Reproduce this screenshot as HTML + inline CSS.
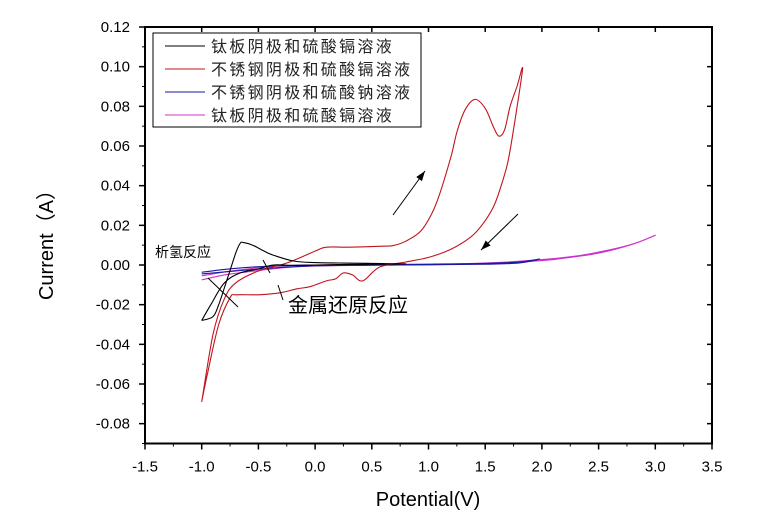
<!DOCTYPE html>
<html><head><meta charset="utf-8"><style>
html,body{margin:0;padding:0;background:#fff;}
svg{display:block;font-family:"Liberation Sans","Noto Sans CJK SC",sans-serif;}
</style></head><body>
<svg id="chart" width="770" height="527" viewBox="0 0 770 527">
<g id="plot"></g>
</svg>
<script>
const xTicks=[-1.5,-1.0,-0.5,0.0,0.5,1.0,1.5,2.0,2.5,3.0,3.5];
const xTickLabels=["-1.5","-1.0","-0.5","0.0","0.5","1.0","1.5","2.0","2.5","3.0","3.5"];
const yTicks=[0.12,0.10,0.08,0.06,0.04,0.02,0.00,-0.02,-0.04,-0.06,-0.08];
const yTickLabels=["0.12","0.10","0.08","0.06","0.04","0.02","0.00","-0.02","-0.04","-0.06","-0.08"];
const seriesNames=["钛板阴极和硫酸镉溶液","不锈钢阴极和硫酸镉溶液","不锈钢阴极和硫酸钠溶液","钛板阴极和硫酸镉溶液"];
// red: stainless + CdSO4
const redX=[-1.0,-0.9,-0.8,-0.7,-0.5,-0.25,0.0,0.1,0.3,0.6,0.69,0.8,0.93,1.03,1.1,1.2,1.25,1.32,1.41,1.5,1.57,1.62,1.67,1.72,1.78,1.83,1.76,1.7,1.63,1.57,1.47,1.37,1.2,1.01,0.8,0.57,0.42,0.33,0.25,0.18,0.1,-0.05,-0.16,-0.31,-0.5,-0.7,-0.75,-0.85,-0.95,-1.0];
const redY=[-0.069,-0.035,-0.017,-0.009,-0.003,0.001,0.007,0.009,0.009,0.0095,0.0098,0.012,0.017,0.026,0.036,0.055,0.067,0.078,0.0835,0.079,0.07,0.065,0.068,0.08,0.09,0.099,0.072,0.052,0.038,0.029,0.02,0.014,0.008,0.004,0.0015,-0.001,-0.008,-0.005,-0.004,-0.007,-0.008,-0.011,-0.012,-0.014,-0.015,-0.015,-0.0165,-0.03,-0.055,-0.069];
// black: titanium + CdSO4 (loop 1)
const blackX=[-1.0,-0.9,-0.85,-0.78,-0.7,-0.66,-0.63,-0.55,-0.45,-0.37,-0.19,0.0,0.22,0.5,0.8,0.5,0.2,0.0,-0.2,-0.37,-0.5,-0.66,-0.8,-0.92,-1.0];
const blackY=[-0.028,-0.026,-0.02,-0.008,0.006,0.011,0.0113,0.010,0.007,0.005,0.002,0.0012,0.001,0.0008,0.0006,0.0004,0.0002,0.0,-0.0002,0.0,-0.002,-0.004,-0.009,-0.02,-0.028];
// blue: stainless + Na2SO4
const blueX=[-1.0,-0.8,-0.6,-0.4,-0.2,0.0,0.5,1.0,1.5,1.8,1.98,1.8,1.5,1.0,0.5,0.0,-0.3,-0.6,-0.8,-1.0];
const blueY=[-0.0037,-0.0022,-0.0012,-0.0006,-0.0002,0.0,0.0001,0.0003,0.0008,0.0015,0.003,0.001,0.0004,0.0001,-0.0001,-0.0004,-0.0012,-0.0025,-0.0035,-0.0045];
// magenta: titanium + CdSO4 (second)
const magX=[-1.0,-0.8,-0.6,-0.4,-0.2,0.0,0.5,1.0,1.5,2.0,2.3,2.5,2.7,2.85,3.0,2.8,2.5,2.2,2.0,1.5,1.0,0.5,0.0,-0.3,-0.6,-0.8,-1.0];
const magY=[-0.0055,-0.0035,-0.002,-0.0008,-0.0002,0.0,0.0002,0.0005,0.001,0.0027,0.0045,0.0065,0.009,0.0115,0.015,0.0105,0.006,0.0035,0.0022,0.0007,0.0002,-0.0001,-0.0005,-0.0015,-0.0035,-0.005,-0.0075];

const X0=145,X1=712,Y0=27,Y1=443.5;
const xMin=-1.5,xMax=3.5,yMin=-0.09,yMax=0.12;
const sx=v=>X0+(v-xMin)/(xMax-xMin)*(X1-X0);
const sy=v=>Y1-(v-yMin)/(yMax-yMin)*(Y1-Y0);
const NS="http://www.w3.org/2000/svg";
const g=document.getElementById('plot');
function mk(tag,attrs,parent){const e=document.createElementNS(NS,tag);for(const k in attrs)e.setAttribute(k,attrs[k]);(parent||g).appendChild(e);return e;}

let fr=mk('rect',{x:X0,y:Y0,width:X1-X0,height:Y1-Y0,fill:'none',stroke:'#000','stroke-width':2});



xTicks.forEach((t,i)=>{
  const x=sx(t);
  let l=mk('line',{x1:x,y1:Y1,x2:x,y2:Y1+6,stroke:'#000','stroke-width':1.5});
  
  
  let l2=mk('line',{x1:x,y1:Y0,x2:x,y2:Y0+5,stroke:'#000','stroke-width':1.5});
  
  
  if(i<xTicks.length-1){
    const xm=sx(t+0.25);
    let m=mk('line',{x1:xm,y1:Y1,x2:xm,y2:Y1+3,stroke:'#000','stroke-width':1});
    
    
  }
  let tx=mk('text',{x:x,y:Y1+28,'text-anchor':'middle','font-size':15,fill:'#000'});
  tx.textContent=xTickLabels[i];
  
  
});
yTicks.forEach((t,i)=>{
  const y=sy(t);
  let l=mk('line',{x1:X0-6,y1:y,x2:X0,y2:y,stroke:'#000','stroke-width':1.5});
  
  
  let l2=mk('line',{x1:X1-5,y1:y,x2:X1,y2:y,stroke:'#000','stroke-width':1.5});
  
  
  const ym=sy(t-0.01);
  let m=mk('line',{x1:X0-3,y1:ym,x2:X0,y2:ym,stroke:'#000','stroke-width':1});
  
  
  let tx=mk('text',{x:X0-15,y:y+5,'text-anchor':'end','font-size':15,fill:'#000'});
  tx.textContent=yTickLabels[i];
  
  
});

function series(xs,ys,color,name){
  const P=xs.map((v,i)=>[sx(v),sy(ys[i])]);
  let d='M'+P[0][0].toFixed(1)+','+P[0][1].toFixed(1);
  for(let i=0;i<P.length-1;i++){
    const p0=P[Math.max(0,i-1)],p1=P[i],p2=P[i+1],p3=P[Math.min(P.length-1,i+2)];
    const c1=[p1[0]+(p2[0]-p0[0])/6,p1[1]+(p2[1]-p0[1])/6];
    const c2=[p2[0]-(p3[0]-p1[0])/6,p2[1]-(p3[1]-p1[1])/6];
    d+=` C${c1[0].toFixed(1)},${c1[1].toFixed(1)} ${c2[0].toFixed(1)},${c2[1].toFixed(1)} ${p2[0].toFixed(1)},${p2[1].toFixed(1)}`;
  }
  const p=mk('path',{d:d,fill:'none',stroke:color,'stroke-width':1.1,'stroke-linejoin':'round'});
  
  
}
series(magX,magY,'#cc33cc','series-ti-cdso4-2');
series(blueX,blueY,'#1a1aa0','series-ss-na2so4');
series(redX,redY,'#c0141e','series-ss-cdso4');
series(blackX,blackY,'#000','series-ti-cdso4');

function ln(x1,y1,x2,y2,name){let l=mk('line',{x1:x1,y1:y1,x2:x2,y2:y2,stroke:'#000','stroke-width':1});}
ln(208,278,238,307,'annotation-pointer-1');
ln(263,260,270,273,'annotation-pointer-2');
ln(278,285,283,300,'annotation-pointer-3');
function arrow(x1,y1,x2,y2,name){
  ln(x1,y1,x2,y2,name);
  const a=Math.atan2(y2-y1,x2-x1),L=10,w=3.5;
  const bx=x2-L*Math.cos(a),by=y2-L*Math.sin(a);
  const p=mk('polygon',{points:`${x2},${y2} ${bx+w*Math.sin(a)},${by-w*Math.cos(a)} ${bx-w*Math.sin(a)},${by+w*Math.cos(a)}`,fill:'#000'});
  
  
}
arrow(393,215,425,171,'arrow-forward-scan');
arrow(518,214,481,250,'arrow-reverse-scan');

let t1=mk('text',{x:155,y:257,'font-size':14,fill:'#000'});t1.textContent='析氢反应';


let t2=mk('text',{x:288,y:312,'font-size':20,fill:'#000'});t2.textContent='金属还原反应';



let xt=mk('text',{x:428,y:506,'text-anchor':'middle','font-size':20,fill:'#000'});xt.textContent='Potential(V)';


let yt=mk('text',{x:0,y:0,'text-anchor':'middle','font-size':20,fill:'#000',transform:'translate(53,240) rotate(-90)'});yt.textContent='Current（A）';



const lg=mk('g',{});


let lb=mk('rect',{x:153,y:33,width:268,height:94,fill:'#fff',stroke:'#000','stroke-width':1},lg);


const legColors=['#000','#c0141e','#1a1aa0','#cc33cc'];
seriesNames.forEach((n,i)=>{
  const y=46+i*23;
  let l=mk('line',{x1:165,y1:y,x2:205,y2:y,stroke:legColors[i],'stroke-width':1.1},lg);
  
  
  let t=mk('text',{x:211,y:y+6,'font-size':16,'letter-spacing':2.3,fill:'#222'},lg);
  t.textContent=n;
  
  
});
</script>
</body></html>
